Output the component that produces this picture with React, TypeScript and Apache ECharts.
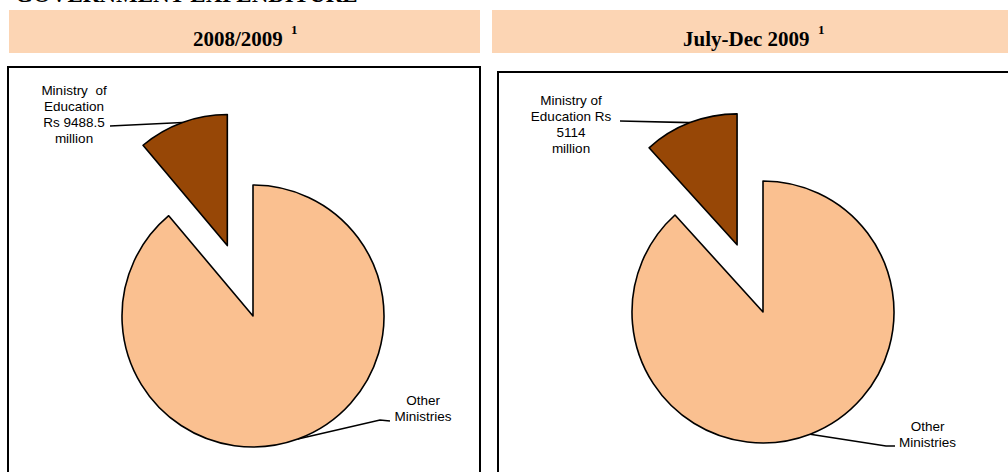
import React, { useEffect, useRef } from 'react';
import * as echarts from 'echarts';

const documentTitle = 'GOVERNMENT EXPENDITURE';
const periods = ['2008/2009', 'July-Dec 2009'];
const footnoteMarks = ['1', '1'];
const categories = ['Ministry of Education', 'Other Ministries'];
const educationValues = [9488.5, 5114];
const otherValues = [75800, 38500];
const educationLabels = ['Ministry  of\nEducation\nRs 9488.5\nmillion', 'Ministry of\nEducation Rs\n5114\nmillion'];
const otherLabels = ['Other\nMinistries', 'Other\nMinistries'];

const PIE_COLORS = ['#974706', '#FAC090'];
const HEADER_FILL = '#FCD5B4';
const SERIF = '"Liberation Serif", "Times New Roman", serif';
const SANS = '"Liberation Sans", Arial, sans-serif';

const PANELS = [
  {
    header: { x: 9, y: 10, w: 471, h: 43, textX: 193, supX: 291 },
    box: { x: 8, y: 67, w: 472, h: 430 },
    cx: 253, cy: 316, r: 131, offset: 75,
    eduLabel: [74, 114], eduLine: [[110, 126]],
    otherLabel: [423, 408.5], otherLine: [[380, 420], [390, 421]],
  },
  {
    header: { x: 492, y: 10, w: 530, h: 43, textX: 683, supX: 818 },
    box: { x: 498, y: 72, w: 530, h: 430 },
    cx: 763, cy: 312, r: 131, offset: 72,
    eduLabel: [571, 124.5], eduLine: [[620, 121]],
    otherLabel: [927.5, 434.5], otherLine: [[886, 446], [895, 446]],
  },
];

// mid-angle (radians, counter-clockwise from 12 o'clock) of a slice
function midAngle(k: number, dataIndex: number): number {
  const total = educationValues[k] + otherValues[k];
  const eduAngle = (2 * Math.PI * educationValues[k]) / total;
  return dataIndex === 0 ? eduAngle / 2 : eduAngle + (2 * Math.PI - eduAngle) / 2;
}
function explodeVector(k: number): number[] {
  const m = midAngle(k, 0);
  const o = PANELS[k].offset;
  return [-Math.sin(m) * o, -Math.cos(m) * o];
}
function edgePoint(k: number, dataIndex: number): number[] {
  const p = PANELS[k];
  const m = midAngle(k, dataIndex);
  const dist = p.r + (dataIndex === 0 ? p.offset : 0);
  return [p.cx - Math.sin(m) * dist, p.cy - Math.cos(m) * dist];
}

const HIDDEN = {
  itemStyle: { color: 'rgba(0,0,0,0)', borderWidth: 0 },
  label: { show: false },
  labelLine: { show: false },
};

export default function App() {
  const ref = useRef<HTMLDivElement>(null);
  useEffect(() => {
    if (!ref.current) return;
    document.body.style.margin = '0';
    const chart = echarts.init(ref.current, undefined, { renderer: 'svg' });
    const graphic: any[] = [
      {
        type: 'text', x: 15, y: -6,
        style: { text: documentTitle, fontSize: 23, fontWeight: 'bold', fontFamily: SERIF, fill: '#000', align: 'left', verticalAlign: 'middle' },
      },
    ];
    PANELS.forEach((p, k) => {
      graphic.push({ type: 'rect', shape: { x: p.header.x, y: p.header.y, width: p.header.w, height: p.header.h }, style: { fill: HEADER_FILL } });
      graphic.push({
        type: 'text', x: p.header.textX, y: 39.4,
        style: { text: periods[k], fontSize: 21, fontWeight: 'bold', fontFamily: SERIF, fill: '#000', align: 'left', verticalAlign: 'middle' },
      });
      graphic.push({
        type: 'text', x: p.header.supX, y: 29.9,
        style: { text: footnoteMarks[k], fontSize: 13, fontWeight: 'bold', fontFamily: SERIF, fill: '#000', align: 'left', verticalAlign: 'middle' },
      });
      graphic.push({ type: 'rect', shape: { x: p.box.x, y: p.box.y, width: p.box.w, height: p.box.h }, style: { fill: 'none', stroke: '#000', lineWidth: 2 } });
    });

    const common = {
      type: 'pie',
      startAngle: 90,
      clockwise: false,
      avoidLabelOverlap: false,
      silent: true,
      emphasis: { disabled: true },
      itemStyle: { borderColor: '#000', borderWidth: 1.6 },
      label: { show: true, position: 'outside', color: '#000', fontSize: 13.5, lineHeight: 16, fontFamily: SANS, align: 'center' },
      labelLine: { show: true, length: 10, length2: 10, lineStyle: { color: '#000', width: 1.6 } },
    };

    const series: any[] = [];
    periods.forEach((_, k) => {
      const p = PANELS[k];
      const ev = explodeVector(k);
      // exploded Ministry of Education slice
      series.push({
        ...common,
        center: [p.cx + ev[0], p.cy + ev[1]],
        radius: p.r,
        labelLayout: (params: any) => {
          if (params.dataIndex !== 0) return {};
          return {
            x: p.eduLabel[0], y: p.eduLabel[1], align: 'center', verticalAlign: 'middle',
            labelLinePoints: [edgePoint(k, 0), ...p.eduLine],
          };
        },
        data: [
          { name: categories[0], value: educationValues[k], itemStyle: { color: PIE_COLORS[0] }, label: { formatter: educationLabels[k] } },
          { name: categories[1], value: otherValues[k], ...HIDDEN },
        ],
      });
      // remaining ministries
      series.push({
        ...common,
        center: [p.cx, p.cy],
        radius: p.r,
        labelLayout: (params: any) => {
          if (params.dataIndex !== 1) return {};
          return {
            x: p.otherLabel[0], y: p.otherLabel[1], align: 'center', verticalAlign: 'middle',
            labelLinePoints: [edgePoint(k, 1), ...p.otherLine],
          };
        },
        data: [
          { name: categories[0], value: educationValues[k], ...HIDDEN },
          { name: categories[1], value: otherValues[k], itemStyle: { color: PIE_COLORS[1] }, label: { formatter: otherLabels[k] } },
        ],
      });
    });

    chart.setOption({
      animation: false,
      backgroundColor: '#fff',
      tooltip: { show: false },
      graphic,
      series,
    } as any);
    return () => chart.dispose();
  }, []);
  return <div ref={ref} style={{ width: 1008, height: 472 }} />;
}
